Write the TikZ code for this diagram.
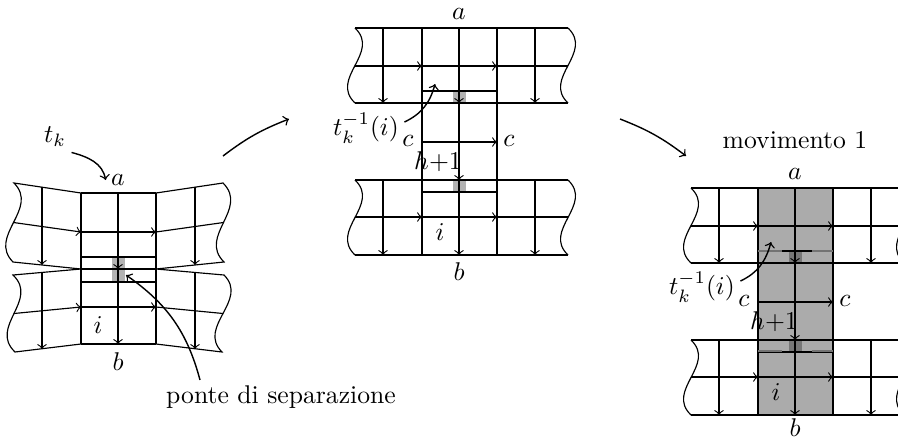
\documentclass[tikz,border=0pt]{standalone}
\usepackage{amsmath,amssymb}
\usepackage{tikz}
\usetikzlibrary{calc}

\begin{document}
\begin{tikzpicture}[
    x=0.39pt, y=-0.39pt,
    gridline/.style={draw=black, line width=0.45pt},
    flow/.style={draw=black, line width=0.45pt, ->},
    wave/.style={to path={.. controls ($(\tikztostart)!0.33!(\tikztotarget)+(26,0)$) and ($(\tikztostart)!0.67!(\tikztotarget)+(-26,0)$) .. (\tikztotarget)}},
    bridge/.style={fill=black, fill opacity=0.3},
    tag/.style={inner sep=2pt},
    bigarrow/.style={draw, line width=0.55pt, ->}
]
\useasboundingbox (0,0) rectangle (898,440);
\clip (0,0) rectangle (898,440);

% Left: the cut
\fill[bridge] (112,257) rectangle (125,282);
\draw[gridline] (81,193) -- (156,193) (81,257) -- (156,257) (81,269) -- (156,269) (81,282) -- (156,282) (81,344) -- (156,344);
\draw[gridline] (81,193) -- (81,344) (156,193) -- (156,344);
\draw[gridline] (81,193) -- (14,183) to[wave] (13,262) -- (81,269) -- (13,275) to[wave] (15,352) -- (81,344);
\draw[gridline] (156,193) -- (223,183) to[wave] (224,262) -- (156,269) -- (224,275) to[wave] (222,352) -- (156,344);
\draw[flow] (13.5,222.5) -- (81,232);
\draw[flow] (81,232) -- (156,232);
\draw[gridline] (156,232) -- (223.5,222.5);
\draw[flow] (14,313.5) -- (81,307);
\draw[flow] (81,307) -- (156,307);
\draw[gridline] (156,307) -- (223,313.5);
\draw[flow] (42,187) -- (42,265);
\draw[flow] (42,272.5) -- (42,349);
\draw[flow] (195,187) -- (195,265);
\draw[flow] (195,272.5) -- (195,349);
\draw[flow] (118,193) -- (118,269);
\draw[flow] (118,269) -- (118,344);

\node[tag] (tk) at (55,137) {$t_k$};
\node[tag] (aL) at (118,180) {$a$};
\node[tag] (bL) at (118,362) {$b$};
\node[tag] (iL) at (98,325) {$i$};
\node[tag] (ponte) at (281,397) {ponte di separazione};
\coordinate (gap) at (126,275);

\draw[bigarrow] (tk.south east) to[out=-15,in=100] (aL.west);
\draw[bigarrow] ($(ponte.north)+(-81,0)$) to[out=105,in=-35] (gap);

% Middle: the cut opened
\fill[bridge] (453,91) rectangle (466,103);
\fill[bridge] (453,180) rectangle (466,192);
\draw[gridline] (355,28) -- (568,28) (355,103) -- (568,103) (355,180) -- (568,180) (355,255) -- (568,255);
\draw[gridline] (422,91) -- (497,91) (422,192) -- (497,192);
\draw[gridline] (422,28) -- (422,255) (497,28) -- (497,255);
\draw[gridline] (355,28) to[wave] (355,103) (568,28) to[wave] (568,103);
\draw[gridline] (355,180) to[wave] (355,255) (568,180) to[wave] (568,255);
\draw[flow] (355,66) -- (422,66);
\draw[flow] (422,66) -- (497,66);
\draw[gridline] (497,66) -- (568,66);
\draw[flow] (355,217) -- (422,217);
\draw[flow] (422,217) -- (497,217);
\draw[gridline] (497,217) -- (568,217);
\draw[flow] (422,142) -- (497,142);
\draw[flow] (383,28) -- (383,103);
\draw[flow] (383,180) -- (383,255);
\draw[flow] (535,28) -- (535,103);
\draw[flow] (535,180) -- (535,255);
\draw[flow] (459,28) -- (459,103);
\draw[flow] (459,103) -- (459,180);
\draw[flow] (459,180) -- (459,255);

\node[tag] (aM) at (459,14) {$a$};
\node[tag] (bM) at (459,272) {$b$};
\node[tag] (cMl) at (408,141) {$c$};
\node[tag] (cMr) at (509,141) {$c$};
\node[tag] (hM) at (438,162) {$h{+}1$};
\node[tag] (iM) at (440,232) {$i$};
\node[tag] (invM) at (366,128) {$t_k^{-1}(i)$};
\coordinate (preM) at (435,84);
\draw[bigarrow] ($(invM.east)+(0,-6)$) to[out=25,in=-105] (preM);

% Right: movimento 1
\fill[black!33] (758,188) rectangle (833,415);
\begin{scope}[shift={(336,160)}]
\fill[bridge] (453,91) rectangle (466,103);
\fill[bridge] (453,180) rectangle (466,192);
\draw[gridline] (355,28) -- (568,28) (355,103) -- (568,103) (355,180) -- (568,180) (355,255) -- (568,255);
\draw[gridline] (422,91) -- (497,91) (422,192) -- (497,192);
\draw[gridline] (422,28) -- (422,255) (497,28) -- (497,255);
\draw[gridline] (355,28) to[wave] (355,103) (568,28) to[wave] (568,103);
\draw[gridline] (355,180) to[wave] (355,255) (568,180) to[wave] (568,255);
\draw[flow] (355,66) -- (422,66);
\draw[flow] (422,66) -- (497,66);
\draw[gridline] (497,66) -- (568,66);
\draw[flow] (355,217) -- (422,217);
\draw[flow] (422,217) -- (497,217);
\draw[gridline] (497,217) -- (568,217);
\draw[flow] (422,142) -- (497,142);
\draw[flow] (383,28) -- (383,103);
\draw[flow] (383,180) -- (383,255);
\draw[flow] (535,28) -- (535,103);
\draw[flow] (535,180) -- (535,255);
\draw[flow] (459,28) -- (459,103);
\draw[flow] (459,103) -- (459,180);
\draw[flow] (459,180) -- (459,255);
\end{scope}
\draw[black!55, line width=0.45pt] (758,251) -- (782,251) (812,251) -- (833,251) (758,351) -- (782,351) (812,351) -- (833,351);

\node[tag] (mov) at (795,140) {movimento 1};
\node[tag] (aR) at (795,174) {$a$};
\node[tag] (bR) at (795,428) {$b$};
\node[tag] (cRl) at (744,301) {$c$};
\node[tag] (cRr) at (845,301) {$c$};
\node[tag] (hR) at (774,322) {$h{+}1$};
\node[tag] (iR) at (776,392) {$i$};
\node[tag] (invR) at (702,287) {$t_k^{-1}(i)$};
\coordinate (preR) at (771,242);
\draw[bigarrow] ($(invR.east)+(0,-6)$) to[out=25,in=-105] (preR);

% Steps
\coordinate (stepA) at (223,156);
\coordinate (stepB) at (289,119);
\coordinate (stepC) at (620,119);
\coordinate (stepD) at (686,156);
\draw[bigarrow] (stepA) to[bend left=8] (stepB);
\draw[bigarrow] (stepC) to[bend left=8] (stepD);

\end{tikzpicture}
\end{document}
